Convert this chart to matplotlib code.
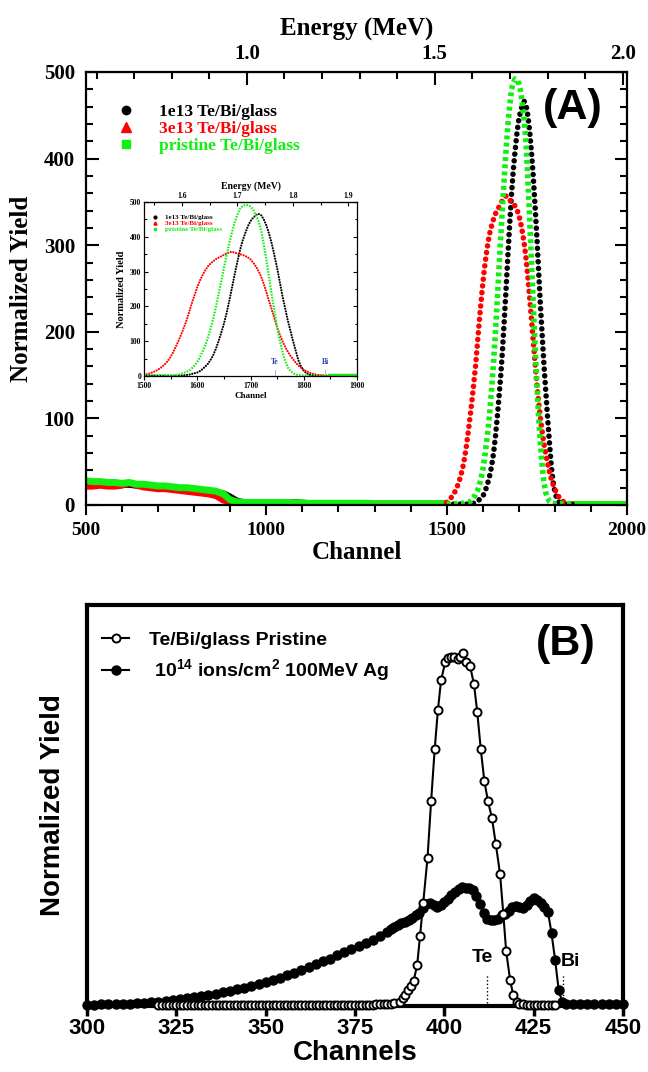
import matplotlib
matplotlib.use("Agg")
import matplotlib.pyplot as plt
from matplotlib.lines import Line2D
from matplotlib.ticker import MultipleLocator, FixedLocator, FormatStrFormatter

SERIF = "Liberation Serif"
SANS = "Liberation Sans"
GREEN = "#11ee11"

plt.rcParams["font.family"] = SERIF
plt.rcParams["font.weight"] = "bold"
plt.rcParams["axes.labelweight"] = "bold"
plt.rcParams["mathtext.fontset"] = "custom"
plt.rcParams["mathtext.rm"] = "Liberation Sans:bold"
plt.rcParams["mathtext.default"] = "rm"

# ---------------- panel A: RBS spectra (channel 500-2000) ----------------
# low-energy part, every 20 channels
ch_low = list(range(500, 1501, 20))
green_low = [28, 27, 27, 26, 26, 25, 26, 24, 24, 23,
             22, 22, 21, 20, 20, 19, 18, 17, 16, 13,
             6, 3.5, 3, 3, 3, 3, 3, 3, 3, 2.5,
             2.5, 2, 2, 2, 2, 2, 2, 2, 2, 2,
             1.5, 1.5, 1.5, 1.5, 1.5, 1.5, 1.5, 1.5, 1.5, 1.5,
             1.5]
black_low = [25, 24, 24, 24, 23, 23, 23, 22, 22, 21,
             21, 20, 20, 19, 18, 18, 17, 16, 15, 14,
             10, 5, 3.5, 3.5, 3.5, 3.5, 3.5, 3.5, 3.5, 3.5,
             3, 2, 2, 1.5, 1.5, 1.5, 1.5, 1.5, 1.5, 1.5,
             1, 1, 1, 1, 1, 1, 1, 1, 1, 1,
             1]
red_low = [21, 21, 22, 21, 21, 22, 25, 22, 20, 19,
           18, 18, 17, 16, 15, 14, 13, 12, 10, 5,
           3, 2.5, 2.5, 2.5, 2.5, 2.5, 2.5, 2.5, 2.5, 2.5,
           2, 2, 2, 2, 2, 2, 2, 2, 2, 2,
           2, 2, 2, 2, 2, 2, 2, 2, 2, 2,
           2.5]

# peak region, every 5 channels (1500-1850)
ch_peak = list(range(1500, 1851, 5))
green_peak = [1.5, 1.5, 1.5, 1.5, 1.5, 1.5, 1.5, 2, 2, 2,
              2, 2.5, 3, 4, 6, 9, 12, 16, 22, 30,
              40, 54, 70, 88, 110, 136, 165, 198, 235, 272,
              310, 346, 380, 412, 440, 462, 480, 488, 492, 491,
              487, 478, 462, 445, 418, 378, 332, 282, 232, 185,
              140, 102, 70, 44, 25, 14, 8, 4, 2.5, 2,
              1.5, 1.5, 1.5, 1.5, 1.5, 1.5, 1.5, 1.5, 1.5, 1.5,
              1.5]
black_peak = [1, 1, 1, 1, 1, 1, 1, 1, 1, 1,
              1, 1, 1, 1, 1.5, 2, 3, 4, 6, 8,
              10, 14, 20, 27, 35, 46, 60, 78, 100, 124,
              150, 180, 215, 252, 290, 326, 360, 388, 410, 430,
              445, 455, 462, 466, 462, 450, 432, 408, 380, 346,
              310, 270, 230, 195, 160, 130, 100, 72, 45, 27,
              15, 8, 4, 2, 1.5, 1, 1, 1, 1, 1,
              1]
red_peak = [3, 5, 7, 10, 13, 17, 22, 28, 35, 44,
            55, 69, 85, 102, 120, 140, 160, 185, 210, 233,
            255, 274, 290, 304, 315, 323, 330, 336, 340, 344,
            348, 352, 355, 357, 355, 352, 350, 348, 345, 341,
            335, 326, 315, 302, 285, 264, 240, 215, 190, 165,
            140, 119, 100, 84, 70, 58, 48, 38, 30, 24,
            18, 14, 10, 7, 5, 3.5, 2, 1.5, 1.5, 1.5,
            1.5]

# flat high-channel end
ch_end = [1850, 1900, 1950, 2000]
green_end = [1.5, 1.5, 1.5, 1.5]
black_end = [1, 1, 1, 1]
red_end = [1.5, 1.5, 1.5, 1.5]

labels_A = ["1e13 Te/Bi/glass", "3e13 Te/Bi/glass", "pristine Te/Bi/glass"]
energy_ticks = [1.0, 1.5, 2.0]
energy_ticks_inset = [1.6, 1.7, 1.8, 1.9]

# ---------------- panel B: channels 300-450 ----------------
b_ch = list(range(300, 385, 2)) + list(range(385, 434)) + list(range(434, 451, 2))
b_val = [0.3, 0.3, 0.4, 0.4, 0.5, 0.5, 0.6, 0.7, 0.8, 0.9,
         1.1, 1.3, 1.5, 1.7, 2.0, 2.2, 2.5, 2.8, 3.1, 3.4,
         3.8, 4.2, 4.6, 5.0, 5.5, 6.0, 6.5, 7.1, 7.7, 8.3,
         9.0, 9.7, 10.4, 11.1, 11.8, 12.6, 13.4, 14.2, 15.0, 15.8,
         16.5, 17.4, 18.5,
         19.3, 19.8, 20.3, 20.8, 21.0, 21.4, 22.0, 22.6, 23.1, 24.5,
         25.5, 25.6, 25.2, 24.8, 25.2, 26.0, 26.8, 27.6, 28.4, 29.1,
         29.8, 29.5, 29.4, 29.0, 27.5, 25.5, 23.2, 21.7, 21.4, 21.4,
         21.6, 22.6, 23.0, 23.6, 24.8, 25.0, 24.6, 24.4, 25.2, 26.2,
         26.9, 26.5, 25.6, 24.6, 23.5, 18.1, 11.5, 4.0, 1.0,
         0.5, 0.4, 0.4, 0.4, 0.4, 0.4, 0.4, 0.4, 0.4]

p_ch = (list(range(320, 387)) +
        [387.5, 388.3, 389.1, 389.9, 390.6, 391.4, 392.4, 393.2, 394.1, 395.3,
         396.3, 397.3, 398.2, 399.1, 400.3, 401.1, 401.9, 402.8, 403.7, 404.4,
         405.3, 406.2, 407.2, 408.3, 409.2, 410.2, 411.2, 412.2, 413.3, 414.4,
         415.6, 416.5, 417.3, 418.4, 419.3, 420.3] +
        list(range(421, 432)))
p_val = ([0.3, 0.3, 0.3, 0.3, 0.3, 0.3, 0.3, 0.3, 0.3, 0.3, 0.3, 0.3, 0.3, 0.3,
          0.3, 0.3, 0.3, 0.3, 0.3, 0.3, 0.3, 0.3, 0.3, 0.3, 0.3, 0.3, 0.3, 0.3,
          0.3, 0.3, 0.3, 0.3, 0.3, 0.3, 0.3, 0.3, 0.3, 0.3, 0.3, 0.3, 0.3, 0.3,
          0.3, 0.3, 0.3, 0.3, 0.3, 0.3, 0.3, 0.3, 0.3, 0.3, 0.3, 0.3, 0.3, 0.3,
          0.3, 0.3, 0.3, 0.3, 0.3, 0.4, 0.4, 0.4, 0.5, 0.6, 0.8] +
         [1.1, 1.9, 2.7, 4.0, 5.0, 6.3, 10.2, 17.5, 25.8, 37.0,
          51.1, 64.0, 73.8, 81.3, 85.9, 86.7, 87.0, 87.0, 86.5, 87.0,
          88.1, 85.9, 84.8, 80.2, 73.4, 64.0, 56.1, 51.1, 47.0, 40.4,
          32.9, 23.0, 13.7, 6.5, 2.7, 1.1] +
         [0.5, 0.4, 0.3, 0.3, 0.3, 0.3, 0.3, 0.3, 0.3, 0.3, 0.3])
labels_B = ["Te/Bi/glass Pristine", " 10$^{14}$ ions/cm$^{2}$ 100MeV Ag"]


def ch2e(c):
    return 1.0 + (c - 946.0) / 1042.0


def e2ch(e):
    return 946.0 + (e - 1.0) * 1042.0


fig = plt.figure(figsize=(6.48, 10.72), dpi=100)

# ================= panel A =================
axA = fig.add_axes([86 / 648, 1 - 505 / 1072, 541 / 648, 433 / 1072])
low = [(black_low, black_end, "black", 4), (red_low, red_end, "red", 4),
       (green_low, green_end, GREEN, 5)]
for ys, ye, c, lw in low:
    axA.plot(ch_low, ys, color=c, lw=lw, solid_capstyle="butt")
    axA.plot(ch_end, ye, color=c, lw=lw, solid_capstyle="butt")

peaks = [(black_peak, "black", (0, (0.01, 1.2)), "round"),
         (red_peak, "red", (0, (0.01, 1.2)), "round"),
         (green_peak, GREEN, (0, (0.7, 0.6)), "butt")]
for ys, c, ls, cap in peaks:
    axA.plot(ch_peak, ys, color=c, lw=4.0, ls=ls, dash_capstyle=cap)

axA.set_xlim(500, 2000)
axA.set_ylim(0, 500)
axA.xaxis.set_major_locator(MultipleLocator(500))
axA.xaxis.set_minor_locator(MultipleLocator(100))
axA.yaxis.set_major_locator(MultipleLocator(100))
axA.yaxis.set_minor_locator(MultipleLocator(20))
axA.tick_params(axis="x", which="both", direction="out", top=False, width=1.5, pad=5,
                labelsize=14)
axA.tick_params(axis="x", which="major", length=7)
axA.tick_params(axis="x", which="minor", length=5)
axA.tick_params(axis="y", which="both", direction="in", left=True, right=True,
                width=1.5, pad=8, labelsize=15)
axA.tick_params(axis="y", which="major", length=9)
axA.tick_params(axis="y", which="minor", length=5)
for s in axA.spines.values():
    s.set_linewidth(1.6)
axA.set_xlabel("Channel", fontsize=18, labelpad=2)
axA.set_ylabel("Normalized Yield", fontsize=18, labelpad=8)

top = axA.secondary_xaxis("top", functions=(ch2e, e2ch))
top.xaxis.set_major_locator(FixedLocator(energy_ticks))
top.xaxis.set_minor_locator(MultipleLocator(0.1))
top.xaxis.set_major_formatter(FormatStrFormatter("%.1f"))
top.tick_params(which="both", direction="in", width=1.5, pad=6, labelsize=15)
top.tick_params(which="major", length=9)
top.tick_params(which="minor", length=5)
top.set_xlabel("Energy (MeV)", fontsize=18, labelpad=6)

handles_A = [Line2D([], [], ls="none", marker="o", color="black", ms=6),
             Line2D([], [], ls="none", marker="^", color="red", ms=6.5),
             Line2D([], [], ls="none", marker="s", color=GREEN, ms=6)]
axA.legend(handles_A, labels_A, loc="upper left", bbox_to_anchor=(0.058, 0.926),
           frameon=False, fontsize=12.5, handlelength=1.0, handletextpad=1.4,
           labelspacing=0.05, borderpad=0, borderaxespad=0,
           labelcolor=["black", "red", GREEN])

fig.text(573 / 648, 1 - 108 / 1072, "(A)", family=SANS, weight="bold", fontsize=31,
         ha="center", va="center")

# inset
axI = fig.add_axes([144 / 648, 1 - 376 / 1072, 213 / 648, 174 / 1072])
for ys, c, ls, cap in peaks:
    axI.plot(ch_peak, ys, color=c, lw=1.6, ls=ls, dash_capstyle=cap)
for ys, ye, c, lw in low:
    axI.plot(ch_end, ye, color=c, lw=1.6)
axI.set_xlim(1500, 1900)
axI.set_ylim(0, 500)
axI.xaxis.set_major_locator(MultipleLocator(100))
axI.xaxis.set_minor_locator(MultipleLocator(50))
axI.yaxis.set_major_locator(MultipleLocator(100))
axI.yaxis.set_minor_locator(MultipleLocator(50))
axI.tick_params(axis="x", which="both", direction="out", top=False, width=0.8,
                labelsize=5.5, pad=1.5)
axI.tick_params(axis="y", which="both", direction="in", left=True, right=True,
                width=0.8, labelsize=5.5, pad=2)
axI.tick_params(which="major", length=3)
axI.tick_params(which="minor", length=1.8)
for s in axI.spines.values():
    s.set_linewidth(0.9)
axI.set_xlabel("Channel", fontsize=6.5, labelpad=1)
axI.set_ylabel("Normalized Yield", fontsize=7.5, labelpad=3)
topI = axI.secondary_xaxis("top", functions=(ch2e, e2ch))
topI.xaxis.set_major_locator(FixedLocator(energy_ticks_inset))
topI.xaxis.set_minor_locator(MultipleLocator(0.05))
topI.xaxis.set_major_formatter(FormatStrFormatter("%.1f"))
topI.tick_params(which="both", direction="in", width=0.8, labelsize=5.5, pad=1.5)
topI.tick_params(which="major", length=3)
topI.tick_params(which="minor", length=1.8)
topI.set_xlabel("Energy (MeV)", fontsize=7, labelpad=2)
for x, t in [(1746, "Te"), (1840, "Bi")]:
    axI.text(x, 28, t, color="#2a3fb0", fontsize=5.5, ha="center", va="bottom")
    axI.plot([x, x], [0, 18], color="#9aa6d8", lw=0.6)
handles_I = [Line2D([], [], ls="none", marker="o", color="black", ms=2),
             Line2D([], [], ls="none", marker="^", color="red", ms=2.2),
             Line2D([], [], ls="none", marker="s", color=GREEN, ms=2)]
axI.legend(handles_I, labels_A, loc="upper left", bbox_to_anchor=(0.04, 0.93),
           frameon=False, fontsize=5, handlelength=0.8, handletextpad=1.0,
           labelspacing=0.05, borderpad=0, borderaxespad=0,
           labelcolor=["black", "red", GREEN])

# ================= panel B =================
axB = fig.add_axes([87 / 648, 1 - 1006 / 1072, 536 / 648, 401 / 1072])
axB.plot(b_ch, b_val, "-o", color="black", ms=6.5, lw=1.5, clip_on=False, zorder=3)
axB.plot(p_ch, p_val, "-o", color="black", mfc="white", mec="black", ms=5.8, mew=1.4,
         lw=1.5, clip_on=False, zorder=4)
axB.set_xlim(300, 450)
axB.set_ylim(0, 100)
axB.xaxis.set_major_locator(MultipleLocator(25))
axB.set_yticks([])
axB.tick_params(axis="x", direction="out", length=7, width=2.5, pad=2, labelsize=16)
for lbl in axB.get_xticklabels():
    lbl.set_fontfamily(SANS)
for s in axB.spines.values():
    s.set_linewidth(3)
axB.set_xlabel("Channels", family=SANS, fontsize=20, labelpad=0)
axB.set_ylabel("Normalized Yield", family=SANS, fontsize=20, labelpad=15)

for x, y, lx, t in [(410.6, 12.0, 411.9, "Te"), (435.2, 11.1, 433.3, "Bi")]:
    axB.text(x, y, t, family=SANS, fontsize=14, ha="center", va="center")
    axB.plot([lx, lx], [0.7, 8], ls=":", color="black", lw=1)

handles_B = [Line2D([], [], color="black", lw=1.5, marker="o", mfc="white", mec="black",
                    ms=5.8, mew=1.4),
             Line2D([], [], color="black", lw=1.5, marker="o", ms=6.5)]
axB.legend(handles_B, labels_B, loc="upper left", bbox_to_anchor=(0.028, 0.935),
           frameon=False, prop={"family": SANS, "weight": "bold", "size": 14},
           handlelength=1.4, handletextpad=1.0, labelspacing=0.45,
           borderpad=0, borderaxespad=0)

fig.text(566 / 648, 1 - 644 / 1072, "(B)", family=SANS, weight="bold", fontsize=31,
         ha="center", va="center")

fig.savefig("out.png", dpi=100)
